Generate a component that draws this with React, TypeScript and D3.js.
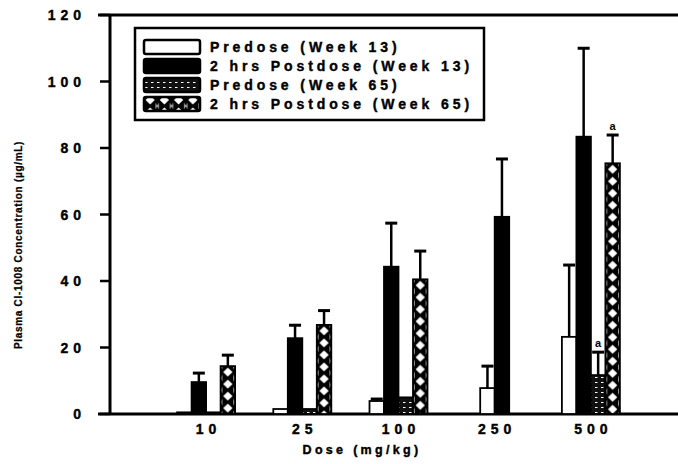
import React from "react";
import * as d3 from "d3";

const categories = ["10", "25", "100", "250", "500"];
const seriesNames = [
  "Predose (Week 13)",
  "2 hrs Postdose (Week 13)",
  "Predose (Week 65)",
  "2 hrs Postdose (Week 65)",
];
const predose13 = [0.5, 1.5, 3.9, 7.8, 23.2];
const predose13Err = [0, 0, 0.6, 6.6, 21.6];
const postdose13 = [9.6, 22.8, 44.3, 59.3, 83.4];
const postdose13Err = [2.7, 3.9, 13.1, 17.4, 26.6];
const predose65: (number | null)[] = [0.5, 1.5, 5.0, null, 11.7];
const predose65Err: (number | null)[] = [0, 0, 0, null, 6.9];
const postdose65: (number | null)[] = [14.4, 26.8, 40.5, null, 75.4];
const postdose65Err: (number | null)[] = [3.3, 4.3, 8.5, null, 8.5];
const sigMarks = [
  { cat: "500", series: 2, label: "a" },
  { cat: "500", series: 3, label: "a" },
];
const yTicks = [0, 20, 40, 60, 80, 100, 120];

const values = [predose13, postdose13, predose65, postdose65];
const errors = [predose13Err, postdose13Err, predose65Err, postdose65Err];

const W = 678;
const H = 464;
const plotTop = 15;
const plotBottom = 414;
const axisX = 110;
const barW = 14.5;
const font = "'Liberation Sans', Arial, sans-serif";

export default function App() {
  const y = d3.scaleLinear().domain([0, 120]).range([plotBottom, plotTop]);
  const x = d3.scaleBand<string>().domain(categories).range([158, 639]).padding(0);

  const bars: any[] = [];
  categories.forEach((c, ci) => {
    const present = [0, 1, 2, 3].filter((s) => values[s][ci] != null);
    const center = (x(c) as number) + x.bandwidth() / 2;
    const sub = d3
      .scaleBand<number>()
      .domain(present)
      .range([center - (present.length * barW) / 2, center + (present.length * barW) / 2]);
    present.forEach((s) => {
      bars.push({
        key: `${ci}-${s}`,
        cat: c,
        s,
        x: sub(s) as number,
        w: sub.bandwidth(),
        v: values[s][ci] as number,
        e: (errors[s][ci] as number) || 0,
      });
    });
  });

  const fillFor = (b: any) => {
    if (b.s === 0) return "#fff";
    if (b.s === 1) return "#000";
    if (b.s === 2) return "url(#dash65)";
    return `url(#hatch-${b.key})`;
  };

  const hatchPattern = (id: string, px: number, w: number, py: number) => {
    const h = 12;
    return (
      <pattern key={id} id={id} patternUnits="userSpaceOnUse" x={px} y={py} width={w} height={h}>
        <rect width={w} height={h} fill="#000" />
        <path
          d={`M${w / 2},${h * 0.12} L${w * 0.82},${h / 2} L${w / 2},${h * 0.88} L${w * 0.18},${h / 2} Z`}
          fill="#fff"
        />
        <path d={`M${w - 1.5},${-h * 0.3} L${w - 0.2},${0} L${w - 1.5},${h * 0.3} Z`} fill="#fff" />
        <path d={`M${w - 1.5},${h * 0.7} L${w - 0.2},${h} L${w - 1.5},${h * 1.3} Z`} fill="#fff" />
        <path d={`M1.5,${-h * 0.3} L0.2,0 L1.5,${h * 0.3} Z`} fill="#fff" />
        <path d={`M1.5,${h * 0.7} L0.2,${h} L1.5,${h * 1.3} Z`} fill="#fff" />
      </pattern>
    );
  };

  const legendX = 135;
  const legendY = 28;
  const legendRows = [47, 66, 85, 104];
  const textStroke = { stroke: "#000", strokeWidth: 0.4 };

  return (
    <svg width={W} height={H} style={{ position: "absolute", left: 0, top: 0, background: "#fff" }}>
      <defs>
        <pattern id="dash65" patternUnits="userSpaceOnUse" width={6} height={5}>
          <rect width={6} height={5} fill="#111" />
          <rect x={1} y={2} width={2.5} height={1} fill="#fff" />
        </pattern>
        {bars.filter((b) => b.s === 3).map((b) => hatchPattern(`hatch-${b.key}`, b.x, b.w, y(b.v)))}
        {hatchPattern("hatch-legend", legendX + 8, 14.25, legendY + 90)}
      </defs>
      <rect width={W} height={H} fill="#fff" />

      {/* frame */}
      <line x1={98} x2={W} y1={plotTop} y2={plotTop} stroke="#000" strokeWidth={3} />
      <line x1={98} x2={W} y1={plotBottom} y2={plotBottom} stroke="#000" strokeWidth={3} />
      <line x1={axisX} x2={axisX} y1={plotTop} y2={plotBottom} stroke="#000" strokeWidth={3} />

      {/* y ticks */}
      {yTicks.map((t) => (
        <g key={t}>
          <line x1={100} x2={axisX} y1={y(t)} y2={y(t)} stroke="#000" strokeWidth={2.5} />
          <text
            x={86}
            y={y(t)}
            dy="0.36em"
            textAnchor="end"
            fontFamily={font}
            fontWeight="bold"
            fontSize={14}
            letterSpacing={5}
            {...textStroke}
          >
            {t}
          </text>
        </g>
      ))}

      {/* bars */}
      {bars.map((b) => (
        <rect
          key={b.key}
          x={b.x}
          y={y(b.v)}
          width={b.w}
          height={y(0) - y(b.v)}
          fill={fillFor(b)}
          stroke="#000"
          strokeWidth={1.8}
        />
      ))}

      {/* error bars */}
      {bars
        .filter((b) => b.e > 0)
        .map((b) => {
          const cx = b.x + b.w / 2;
          return (
            <g key={"e" + b.key}>
              <line x1={cx} x2={cx} y1={y(b.v)} y2={y(b.v + b.e)} stroke="#000" strokeWidth={2.5} />
              <line
                x1={cx - 6}
                x2={cx + 6}
                y1={y(b.v + b.e)}
                y2={y(b.v + b.e)}
                stroke="#000"
                strokeWidth={3}
              />
            </g>
          );
        })}

      {/* significance marks */}
      {sigMarks.map((m, i) => {
        const b = bars.find((bb) => bb.cat === m.cat && bb.s === m.series);
        if (!b) return null;
        return (
          <text
            key={i}
            x={b.x + b.w / 2}
            y={y(b.v + b.e) - 5}
            textAnchor="middle"
            fontFamily={font}
            fontWeight="bold"
            fontSize={11}
          >
            {m.label}
          </text>
        );
      })}

      {/* x tick labels */}
      {categories.map((c) => (
        <text
          key={c}
          x={(x(c) as number) + x.bandwidth() / 2 + 2.5}
          y={434}
          textAnchor="middle"
          fontFamily={font}
          fontWeight="bold"
          fontSize={14}
          letterSpacing={5}
          {...textStroke}
        >
          {c}
        </text>
      ))}

      {/* axis titles */}
      <text
        x={362}
        y={454}
        textAnchor="middle"
        fontFamily={font}
        fontWeight="bold"
        fontSize={12.5}
        letterSpacing={3.3}
        {...textStroke}
      >
        Dose (mg/kg)
      </text>
      <text
        transform={`translate(22,245) rotate(-90)`}
        textAnchor="middle"
        fontFamily={font}
        fontWeight="bold"
        fontSize={10}
        letterSpacing={0.7}
        stroke="#000"
        strokeWidth={0.25}
      >
        Plasma CI-1008 Concentration (µg/mL)
      </text>

      {/* legend */}
      <rect x={legendX} y={legendY} width={349} height={92} fill="#fff" stroke="#000" strokeWidth={2.5} />
      {seriesNames.map((n, i) => {
        const cy = legendRows[i];
        const fill =
          i === 0 ? "#fff" : i === 1 ? "#000" : i === 2 ? "url(#dash65)" : "url(#hatch-legend)";
        return (
          <g key={n}>
            <rect
              x={legendX + 9}
              y={cy - 7}
              width={56}
              height={14}
              rx={2}
              fill={fill}
              stroke="#000"
              strokeWidth={2.5}
            />
            <text
              x={legendX + 75}
              y={cy}
              dy="0.36em"
              fontFamily={font}
              fontWeight="bold"
              fontSize={14}
              letterSpacing={3.9}
              {...textStroke}
            >
              {n}
            </text>
          </g>
        );
      })}
    </svg>
  );
}
